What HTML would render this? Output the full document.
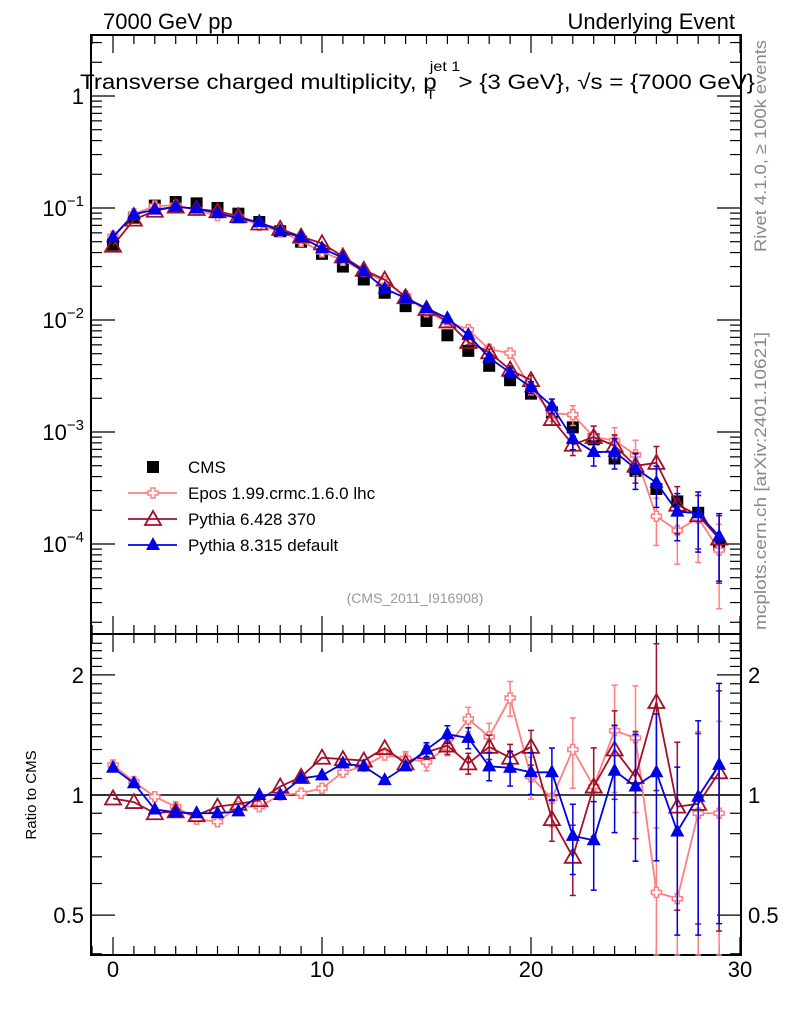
<!DOCTYPE html>
<html><head><meta charset="utf-8"><style>
body{margin:0;background:#fff;}
svg{display:block;font-family:"Liberation Sans",sans-serif;}
</style></head><body>
<svg id="plot" width="786" height="1024" viewBox="0 0 786 1024" xmlns="http://www.w3.org/2000/svg">
<text x="103" y="29" font-size="22">7000 GeV pp</text>
<text x="735" y="29" font-size="22" text-anchor="end">Underlying Event</text>
<text transform="translate(80,89) scale(1.15,1)" x="0" y="0" font-size="21">Transverse charged multiplicity, p<tspan font-size="14" dy="-18" dx="-6">jet 1</tspan><tspan font-size="14" dx="-30" dy="28">T</tspan><tspan dy="-10" dx="20">&gt; {3 GeV}, √s = {7000 GeV}</tspan></text>
<text transform="translate(766,252) rotate(-90)" font-size="17" fill="#888" textLength="212" lengthAdjust="spacingAndGlyphs">Rivet 4.1.0, ≥ 100k events</text>
<text transform="translate(766,630) rotate(-90)" font-size="17" fill="#888" textLength="298" lengthAdjust="spacingAndGlyphs">mcplots.cern.ch [arXiv:2401.10621]</text>
<text x="415" y="603" font-size="14" fill="#999" text-anchor="middle">(CMS_2011_I916908)</text>
<text transform="translate(36,795) rotate(-90)" font-size="15" text-anchor="middle">Ratio to CMS</text>
<g id="axes"></g>
<g id="marks"></g>
<g id="legend"></g>
</svg>
<script>
const xs=[0,1,2,3,4,5,6,7,8,9,10,11,12,13,14,15,16,17,18,19,20,21,22,23,24,25,26,27,28,29];
const cms=[0.047,0.082,0.105,0.113,0.110,0.100,0.089,0.075,0.062,0.050,0.039,0.030,0.023,0.0175,0.0133,0.0098,0.0073,0.0053,0.0039,0.0029,0.0022,0.0015,0.0011,0.00086,0.00058,0.00045,0.00031,0.00024,0.00019,0.000098];
const eposRatio=[1.19,1.08,0.99,0.935,0.87,0.857,0.935,0.935,1.0,1.01,1.04,1.14,1.18,1.26,1.235,1.21,1.32,1.55,1.40,1.75,1.11,0.98,1.30,1.05,1.45,1.39,0.57,0.55,0.90,0.90];
const py6Ratio=[0.98,0.96,0.90,0.91,0.89,0.935,0.95,0.97,1.05,1.11,1.24,1.23,1.22,1.31,1.20,1.28,1.33,1.20,1.32,1.24,1.32,0.87,0.70,1.05,1.30,1.11,1.71,0.935,0.95,1.14];
const py8Ratio=[1.17,1.07,0.92,0.905,0.90,0.90,0.91,1.0,1.0,1.10,1.12,1.20,1.18,1.09,1.18,1.30,1.42,1.39,1.18,1.17,1.14,1.14,0.79,0.77,1.15,1.05,1.14,0.81,0.99,1.19];
const eposErr=[0.02,0.02,0.02,0.02,0.02,0.02,0.02,0.02,0.02,0.02,0.02,0.02,0.03,0.03,0.04,0.05,0.05,0.07,0.08,0.1,0.12,0.15,0.2,0.25,0.3,0.35,0.45,0.5,0.6,0.7];
const py6Err=[0.01,0.01,0.01,0.01,0.01,0.01,0.01,0.01,0.01,0.02,0.02,0.02,0.03,0.03,0.03,0.04,0.05,0.06,0.07,0.08,0.1,0.12,0.2,0.25,0.25,0.3,0.4,0.45,0.5,0.6];
const py8Err=[0.01,0.01,0.01,0.01,0.01,0.01,0.01,0.01,0.01,0.02,0.02,0.02,0.03,0.03,0.03,0.04,0.05,0.06,0.08,0.1,0.12,0.15,0.2,0.25,0.3,0.35,0.4,0.45,0.55,0.6];
const xTicks=[0,10,20,30];
const mainTicks=[0,-1,-2,-3,-4];
const ratioTicks=[0.5,1,2];

const NS="http://www.w3.org/2000/svg";
const L=91,R=741,T=35,MB=634,RB=955;
const xp=v=>113+20.9*v;
const yMain=v=>96-112*Math.log10(v);
const yRat=v=>795-399*Math.log10(v);
const axes=document.getElementById('axes'),marks=document.getElementById('marks'),leg=document.getElementById('legend');
function mk(tag,attrs,parent){const e=document.createElementNS(NS,tag);for(const k in attrs)e.setAttribute(k,attrs[k]);parent.appendChild(e);return e;}

let f1=mk('rect',{x:L,y:T,width:R-L,height:MB-T,fill:'none',stroke:'#000','stroke-width':2},axes);


let f2=mk('rect',{x:L,y:MB,width:R-L,height:RB-MB,fill:'none',stroke:'#000','stroke-width':2},axes);


let ref=mk('line',{x1:L,x2:R,y1:yRat(1),y2:yRat(1),stroke:'#000','stroke-width':1.5},axes);



for(let v=-1;v<=30;v++){
  const major=v%10===0, len=major?18:9, x=xp(v);
  [[T,1],[MB,-1],[MB,1],[RB,-1]].forEach(([y,d])=>mk('line',{x1:x,x2:x,y1:y,y2:y+d*len,stroke:'#000','stroke-width':1.2},axes));
}
xTicks.forEach(v=>{const t=mk('text',{x:xp(v),y:977,'font-size':22,'text-anchor':'middle'},axes);t.textContent=v;

});

for(let d=-5;d<=0;d++){for(let m=1;m<10;m++){const v=m*Math.pow(10,d);const y=yMain(v);if(y<T||y>MB)continue;const len=m===1?24:11;
mk('line',{x1:L,x2:L+len,y1:y,y2:y,stroke:'#000','stroke-width':1.2},axes);mk('line',{x1:R,x2:R-len,y1:y,y2:y,stroke:'#000','stroke-width':1.2},axes);}}
mainTicks.forEach(d=>{const y=yMain(Math.pow(10,d));const t=mk('text',{x:84,y:y+8,'font-size':22,'text-anchor':'end'},axes);
if(d===0)t.textContent='1';else{t.textContent='10';const s=mk('tspan',{'font-size':15,dy:-10},t);s.textContent='−'+(-d);}

});

for(let v=0.4;v<=2.5;v+=0.1){const y=yRat(v);if(y<MB||y>RB)continue;const major=[0.5,1,2].some(q=>Math.abs(q-v)<1e-6);const len=major?24:11;
mk('line',{x1:L,x2:L+len,y1:y,y2:y,stroke:'#000','stroke-width':1.2},axes);mk('line',{x1:R,x2:R-len,y1:y,y2:y,stroke:'#000','stroke-width':1.2},axes);}
ratioTicks.forEach(v=>{const y=yRat(v)+8;
const t=mk('text',{x:84,y:y,'font-size':22,'text-anchor':'end'},axes);t.textContent=v;


const t2=mk('text',{x:748,y:y,'font-size':22},axes);t2.textContent=v;

});

function marker(type,x,y,col,g){
  if(type==='sq')return mk('rect',{x:x-6,y:y-6,width:12,height:12,fill:'#000'},g);
  if(type==='cross')return mk('path',{d:`M${x-2},${y-5}h4v3h3v4h-3v3h-4v-3h-3v-4h3z`,fill:'#fff',stroke:col,'stroke-width':1.5},g);
  if(type==='otri')return mk('path',{d:`M${x},${y-8}L${x+8},${y+6}L${x-8},${y+6}Z`,fill:'none',stroke:col,'stroke-width':1.8},g);
  return mk('path',{d:`M${x},${y-8}L${x+7},${y+5}L${x-7},${y+5}Z`,fill:col},g);
}
function series(name,ratio,err,col,type,width){
  const g=mk('g',{},marks);
  
  
  const vals=ratio.map((r,i)=>r*cms[i]);
  const clipY=(y,a,b)=>Math.max(a,Math.min(b,y));
  [[vals,yMain,T,MB],[ratio,yRat,MB,RB]].forEach(([arr,yf,a,b])=>{
    const pts=arr.map((v,i)=>xp(xs[i])+','+clipY(yf(v),a,b)).join(' ');
    mk('polyline',{points:pts,fill:'none',stroke:col,'stroke-width':width},g);
    arr.forEach((v,i)=>{const x=xp(xs[i]);const e=err[i];if(e>0.03){
      const y1=clipY(yf(v*(1+e)),a,b),y2=clipY(yf(Math.max(v*(1-e),1e-9)),a,b);
      mk('line',{x1:x,x2:x,y1:y1,y2:y2,stroke:col,'stroke-width':1.5},g);
      mk('line',{x1:x-3,x2:x+3,y1:y1,y2:y1,stroke:col,'stroke-width':1.5},g);
      mk('line',{x1:x-3,x2:x+3,y1:y2,y2:y2,stroke:col,'stroke-width':1.5},g);}
      const y=yf(v);if(y>=a&&y<=b)marker(type,x,y,col,g);});
  });
}
const gc=mk('g',{},marks);


cms.forEach((v,i)=>marker('sq',xp(xs[i]),yMain(v),'#000',gc));
series('epos-series',eposRatio,eposErr,'#ff7f7f','cross',1.8);
series('pythia6-series',py6Ratio,py6Err,'#a0102a','otri',1.8);
series('pythia8-series',py8Ratio,py8Err,'#0000e6','tri',1.8);

const entries=[['CMS','#000','sq',467],['Epos 1.99.crmc.1.6.0 lhc','#ff7f7f','cross',493],['Pythia 6.428 370','#a0102a','otri',519],['Pythia 8.315 default','#0000e6','tri',545]];
entries.forEach(([lab,col,type,y])=>{const g=mk('g',{},leg);


if(type!=='sq')mk('line',{x1:128,x2:177,y1:y,y2:y,stroke:col,'stroke-width':1.8},g);
marker(type,153,y,col,g);
const t=mk('text',{x:188,y:y+6,'font-size':17},g);t.textContent=lab;});
</script>
</body></html>
